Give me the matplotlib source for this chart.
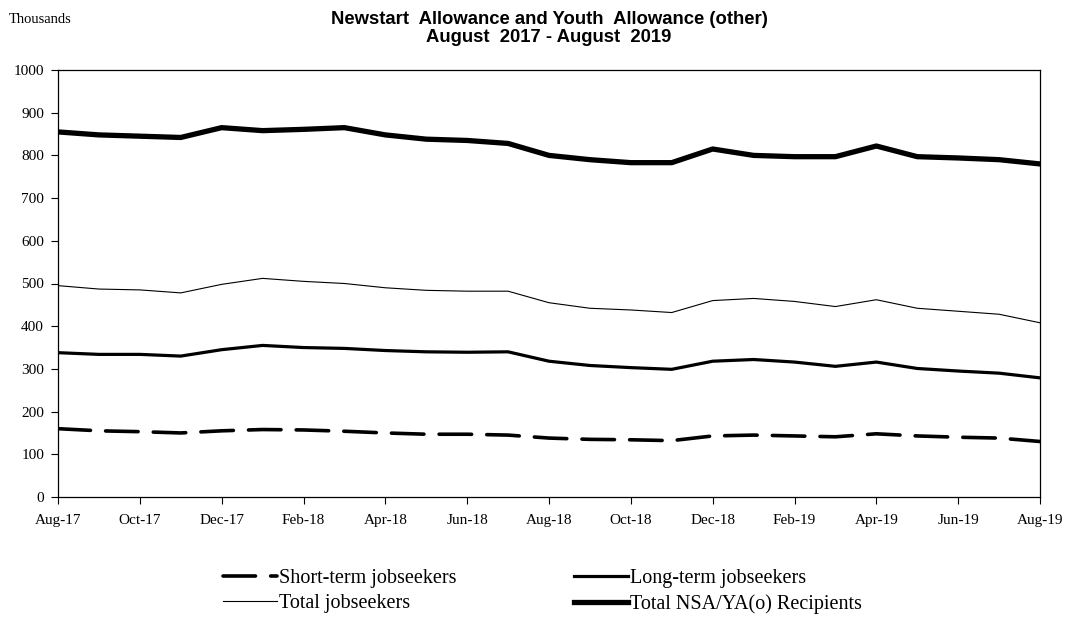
import matplotlib
matplotlib.use("Agg")
import matplotlib.pyplot as plt
import numpy as np

months = ["Aug-17","Sep-17","Oct-17","Nov-17","Dec-17","Jan-18","Feb-18","Mar-18","Apr-18",
          "May-18","Jun-18","Jul-18","Aug-18","Sep-18","Oct-18","Nov-18","Dec-18","Jan-19",
          "Feb-19","Mar-19","Apr-19","May-19","Jun-19","Jul-19","Aug-19"]

short_term = [160,155,153,150,155,158,157,154,150,147,147,145,138,135,134,132,143,145,143,141,148,143,140,138,130]
long_term = [338,334,334,330,345,355,350,348,343,340,339,340,318,308,303,299,318,322,316,306,316,301,295,290,279]
total_js = [495,487,485,478,498,512,505,500,490,484,482,482,455,442,438,432,460,465,458,446,462,442,435,428,408]
total_nsa = [855,848,845,842,865,858,861,865,848,838,835,828,800,790,783,783,815,800,797,797,822,797,794,790,780]

yticks = [0,100,200,300,400,500,600,700,800,900,1000]

W, H = 1068, 644
fig = plt.figure(figsize=(W/100, H/100), dpi=100)
ax = fig.add_axes([58/W, 1-497/H, (1040-58)/W, (497-70)/H])

x = np.arange(len(months))
serif = "Liberation Serif"
sans = "Liberation Sans"

l1, = ax.plot(x, short_term, color="black", lw=2.6, dashes=(9.0, 4.2),
              solid_joinstyle="round", dash_capstyle="round", label="Short-term jobseekers")
l2, = ax.plot(x, total_js, color="black", lw=0.8, solid_joinstyle="round", label="Total jobseekers")
l3, = ax.plot(x, long_term, color="black", lw=2.3, solid_joinstyle="round", label="Long-term jobseekers")
l4, = ax.plot(x, total_nsa, color="black", lw=3.8, solid_joinstyle="round", label="Total NSA/YA(o) Recipients")

ax.set_xlim(0, len(months)-1)
ax.set_ylim(0, 1000)
ax.set_yticks(yticks)
ax.set_yticklabels([str(v) for v in yticks], fontfamily=serif, fontsize=11)
ax.set_xticks(x[::2])
ax.set_xticklabels(months[::2], fontfamily=serif, fontsize=11)
ax.tick_params(axis="both", direction="out", length=5, width=0.8, color="black")
ax.tick_params(axis="y", pad=5)
ax.tick_params(axis="x", pad=7)
for s in ax.spines.values():
    s.set_linewidth(0.9)
    s.set_color("black")

fig.text(9/W, 1-23/H, "Thousands", fontfamily=serif, fontsize=10.5, va="baseline", ha="left")
fig.text(549/W, 1-24.5/H, "Newstart  Allowance and Youth  Allowance (other)", fontfamily=sans,
         fontweight="bold", fontsize=13.3, ha="center", va="baseline")
fig.text(549/W, 1-42/H, "August  2017 - August  2019", fontfamily=sans,
         fontweight="bold", fontsize=13.3, ha="center", va="baseline")

leg = fig.legend(handles=[l1, l2, l3, l4], ncol=2, loc="upper left",
                 bbox_to_anchor=(223/W, 1-569/H), frameon=False,
                 prop={"family": serif, "size": 14.5}, handlelength=2.7,
                 handletextpad=0.1, columnspacing=5.8, labelspacing=0.3,
                 borderaxespad=0, borderpad=0)

fig.savefig("out.png", dpi=100)
